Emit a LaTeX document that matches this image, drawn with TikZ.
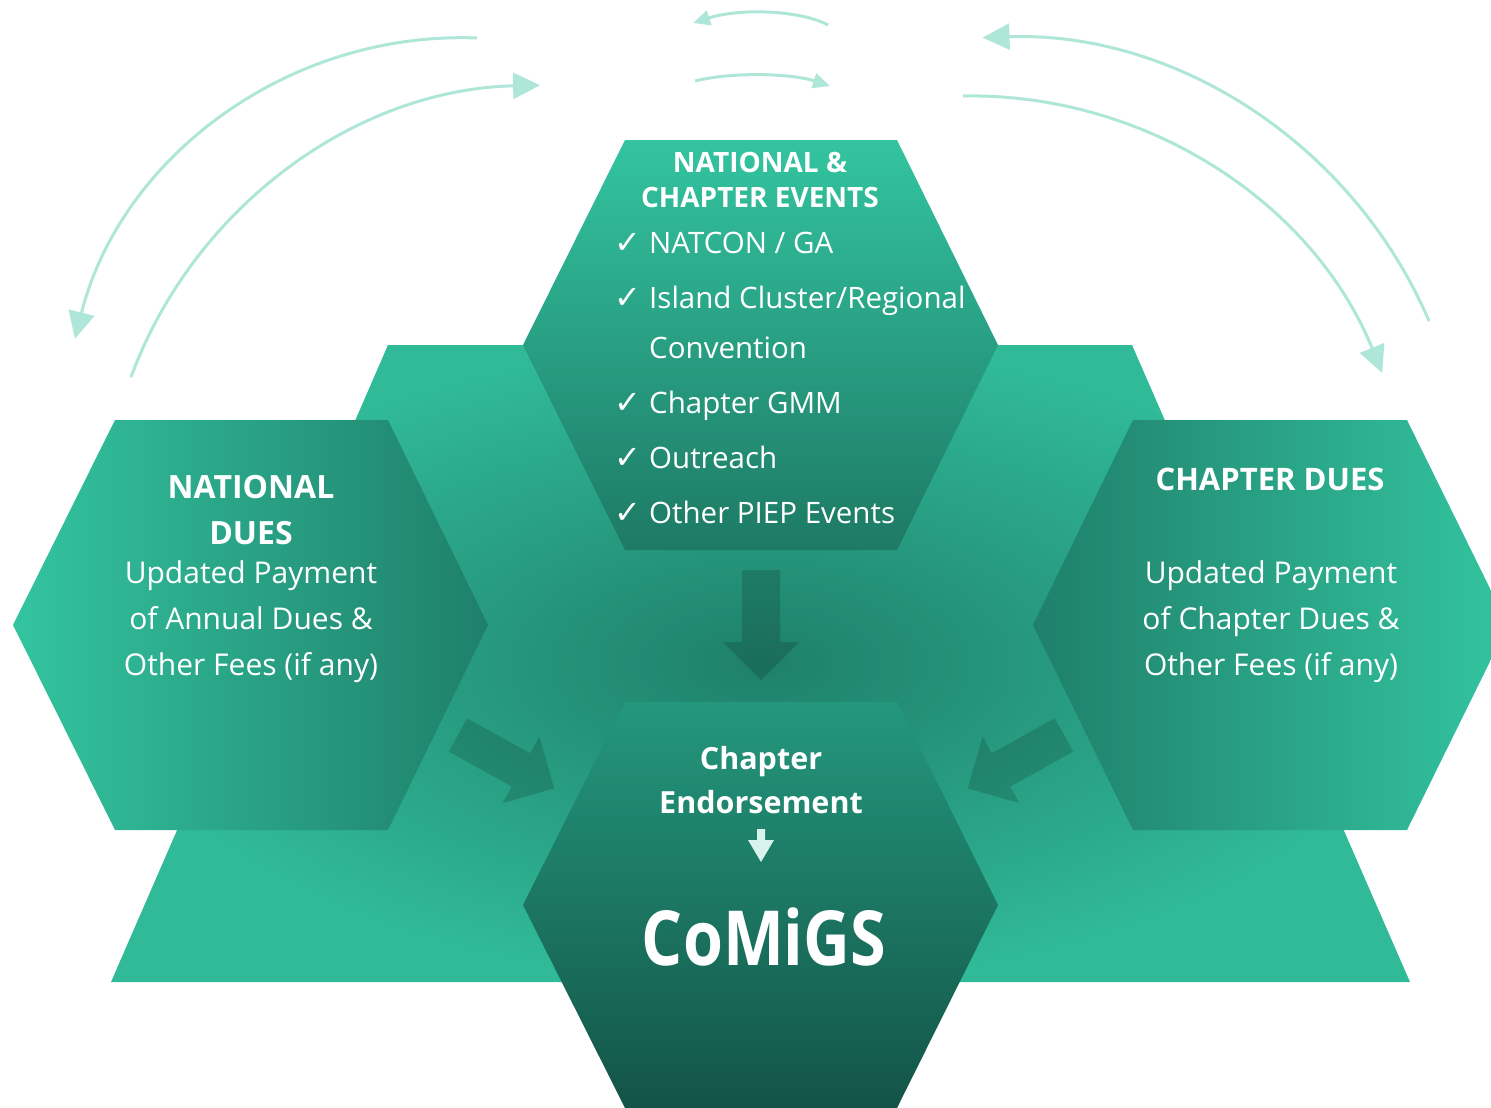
\documentclass[tikz,border=0pt]{standalone}
\usepackage{fontspec}
\setmainfont{Open Sans}
\newfontfamily\tickfont{DejaVu Sans}
\usetikzlibrary{arrows.meta}

\definecolor{tealLight}{RGB}{51,196,160}
\definecolor{tealMid}{RGB}{36,151,124}
\definecolor{tealDark}{RGB}{31,128,106}
\definecolor{tealDeep}{RGB}{19,84,71}
\definecolor{arcTeal}{RGB}{174,230,216}
\definecolor{tipWhite}{RGB}{216,243,236}

\tikzset{
  cyclearc/.style={arcTeal, line width=3pt, -{Triangle[length=27pt,width=26pt]}},
  smallarc/.style={arcTeal, line width=3pt, -{Triangle[length=17pt,width=15pt]}},
  shadowfill/.style={fill=black, fill opacity=0.15},
  headtext/.style={text=white, inner sep=0pt, align=center, font=\bfseries\fontsize{30}{46}\selectfont},
  bodytext/.style={text=white, inner sep=0pt, align=center, font=\fontsize{30}{46}\selectfont},
  listtext/.style={text=white, inner sep=0pt, align=left, font=\fontsize{29.5}{50}\selectfont},
}

\newcommand{\tick}{\makebox[35pt][l]{\tickfont\fontsize{32}{32}\selectfont ✓}}
\newcommand{\blockarrow}{\fill[shadowfill] (-19,0) -- (19,0) -- (19,72) -- (38,72) -- (0,110) -- (-38,72) -- (-19,72) -- cycle;}

\begin{document}
\begin{tikzpicture}[x=1pt,y=-1pt]
    \clip (0,0) rectangle (1491,1108);

    % Background
    \shade[inner color=tealDark, outer color=tealLight!85!tealDark] (388,345) -- (1132,345) -- (1410,982) -- (111,982) -- cycle;

    % Hexagons
    \shade[top color=tealLight, bottom color=tealDark!95!black] (625,140) -- (897,140) -- (998,345) -- (897,550) -- (625,550) -- (523,345) -- cycle;
    \shade[left color=tealLight, right color=tealDark] (115,420) -- (388,420) -- (488,625) -- (388,830) -- (115,830) -- (13,625) -- cycle;
    \shade[left color=tealDark, right color=tealLight] (1133,420) -- (1407,420) -- (1508,625) -- (1407,830) -- (1133,830) -- (1033,625) -- cycle;
    \shade[top color=tealMid, bottom color=tealDeep] (625,702) -- (897,702) -- (998,905) -- (897,1108) -- (625,1108) -- (523,905) -- cycle;

    % Arrows
    \begin{scope}[shift={(761,570)}] \blockarrow \end{scope}
    \begin{scope}[shift={(458,735)}, rotate=61] \blockarrow \end{scope}
    \begin{scope}[shift={(1064,735)}, rotate=-61] \blockarrow \end{scope}

    % Cycle
    \draw[cyclearc] (477,38) arc[start angle=-87.8, end angle=-165.8, radius=399];
    \draw[cyclearc] (131,377) arc[start angle=-159.7, end angle=-91.3, radius=447];
    \draw[cyclearc] (1429,321) arc[start angle=-23.2, end angle=-92, radius=468];
    \draw[cyclearc] (963,96) arc[start angle=-91, end angle=-22.1, radius=444];
    \draw[smallarc] (828,25) .. controls (800,10) and (740,8) .. (693,23);
    \draw[smallarc] (695,81) .. controls (730,72) and (790,73) .. (830,86);

    \node[headtext, font=\bfseries\fontsize{28}{35}\selectfont, anchor=base] (events) at (760,207) {NATIONAL \&\\CHAPTER EVENTS};
    \node[listtext, anchor=base west] (eventlist) at (614,523) {\tick NATCON / GA\\[5pt]
        \tick Island Cluster/Regional\\
        \hspace*{35pt}Convention\\[5pt]
        \tick Chapter GMM\\[5pt]
        \tick Outreach\\[5pt]
        \tick Other PIEP Events};

    \node[headtext, font=\bfseries\fontsize{32}{46}\selectfont, anchor=base] (natdues) at (251,544) {NATIONAL\\DUES};
    \node[bodytext, anchor=base] (natpay) at (251,675) {Updated Payment\\of Annual Dues \&\\Other Fees (if any)};

    \node[headtext, font=\bfseries\fontsize{31}{46}\selectfont, anchor=base] (chapdues) at (1270,490) {CHAPTER DUES};
    \node[bodytext, anchor=base] (chappay) at (1271,675) {Updated Payment\\of Chapter Dues \&\\Other Fees (if any)};

    \node[headtext, font=\bfseries\fontsize{30.5}{44}\selectfont, anchor=base] (endorse) at (761,813) {Chapter\\Endorsement};
    \fill[tipWhite] (757,829) -- (765,829) -- (765,840) -- (774,840) -- (761,862) -- (748,840) -- (757,840) -- cycle;
    \node[text=white, inner sep=0pt, font=\bfseries\fontsize{76}{76}\selectfont, anchor=base] (comigs) at (764,965) {\scalebox{0.85}[1]{CoMiGS}};
\end{tikzpicture}
\end{document}
